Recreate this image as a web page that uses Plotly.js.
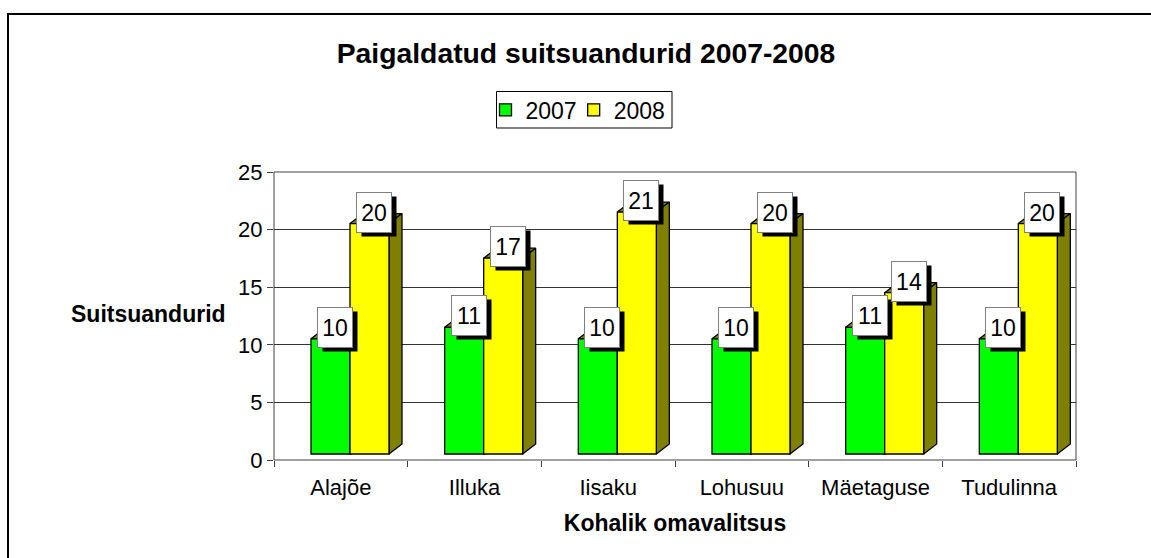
<!DOCTYPE html>
<html><head><meta charset="utf-8">
<script src="https://cdn.plot.ly/plotly-3.0.1.min.js"></script>
<style>html,body{margin:0;padding:0;background:#fff;overflow:hidden}#c{width:1151px;height:558px}</style>
</head><body><div id="c"></div>
<script>
const categories = ["Alajõe","Illuka","Iisaku","Lohusuu","Mäetaguse","Tudulinna"];
const labels2007 = [10,11,10,10,11,10];
const labels2008 = [20,17,21,20,14,20];
const yTicks = [0,5,10,15,20,25];

const W=1151,H=558,L=274,R=1076,T=172,B=460;
const pxX=(R-L)/6, pxY=(B-T)/25;
const barW=39/pxX, start=(311-L)/pxX-0.5;
const floorY=6/pxY, depthX=13/pxX, depthY=10/pxY;
const idx=categories.map((_,i)=>i);
const FONT='Liberation Sans, Arial, sans-serif';
const edge={color:'#000',width:1.3};

function front(name,vals,colOff,color,zorder){
  return {type:'bar',name,x:idx,y:vals,base:idx.map(()=>floorY),width:barW,zorder,
    offset:start+colOff*barW,marker:{color,line:edge},hoverinfo:'skip',showlegend:true};
}
function poly(xs,ys,fill,zorder){
  return {type:'scatter',mode:'lines',x:xs,y:ys,fill:'toself',fillcolor:fill,zorder,
    line:edge,showlegend:false,hoverinfo:'skip'};
}
const traces=[];
function backs(vals,colOff,topCol,sideCol,zorder){
  idx.forEach(i=>{
    const x0=i+start+colOff*barW,x1=x0+barW,t=vals[i]+floorY,b=floorY;
    traces.push(poly([x0,x0+depthX,x1+depthX,x1,x0],[t,t+depthY,t+depthY,t,t],topCol,zorder));
    traces.push(poly([x1,x1+depthX,x1+depthX,x1,x1],[t,t+depthY,b+depthY,b,t],sideCol,zorder));
  });
}
backs(labels2007,0,'#808000','#808000',1);
traces.push(front('2007',labels2007,0,'#00ff00',2));
backs(labels2008,1,'#808000','#808000',3);
traces.push(front('2008',labels2008,1,'#ffff00',4));

const annotations=[];
function boxes(vals,colOff){
  idx.forEach(i=>{
    const x=i+start+(colOff+0.5)*barW,y=vals[i]+floorY;
    annotations.push({x,y,xref:'x',yref:'y',text:' ',showarrow:false,width:34,height:39,
      bgcolor:'#000',borderpad:0,xshift:9.5,yshift:7.5,xanchor:'center',yanchor:'middle'});
    annotations.push({x,y,xref:'x',yref:'y',text:String(vals[i]),showarrow:false,width:34,height:39,
      bgcolor:'#fff',bordercolor:'#808080',borderwidth:1,borderpad:0,xshift:4.5,yshift:11.5,
      xanchor:'center',yanchor:'middle',font:{family:FONT,size:23,color:'#000'}});
  });
}
boxes(labels2007,0);
boxes(labels2008,1);

const px2paperX=p=>(p-L)/(R-L), px2paperY=p=>(B-p)/(B-T);
const shapes=[
 {type:'line',xref:'paper',yref:'paper',x0:px2paperX(7),x1:px2paperX(W),y0:px2paperY(14),y1:px2paperY(14),line:{color:'#000',width:2}},
 {type:'line',xref:'paper',yref:'paper',x0:px2paperX(8),x1:px2paperX(8),y0:px2paperY(14),y1:px2paperY(H),line:{color:'#000',width:2}},
 {type:'rect',xref:'paper',yref:'paper',x0:px2paperX(496.5),x1:px2paperX(672),y0:px2paperY(91.5),y1:px2paperY(128),line:{color:'#000',width:1},fillcolor:'#fff'},
 {type:'rect',layer:'below',xref:'paper',yref:'paper',x0:0,x1:1,y0:0,y1:1,line:{color:'#404040',width:1}}
];

const layout={
  width:W,height:H,paper_bgcolor:'#fff',plot_bgcolor:'#fff',
  margin:{l:L,r:W-R,t:T,b:H-B,pad:0},
  barmode:'overlay',
  font:{family:FONT,color:'#000'},
  title:{text:'<b>Paigaldatud suitsuandurid 2007-2008</b>',font:{family:FONT,size:28.3,color:'#000'},
    x:586/W,xanchor:'center',y:1-53/H,yanchor:'middle'},
  xaxis:{range:[-0.5,5.5],tickmode:'array',tickvals:idx,ticktext:categories,ticks:'',ticklabelstandoff:8,
    tickfont:{family:FONT,size:22},showgrid:false,zeroline:false,
    showline:true,linecolor:'#404040',linewidth:1,mirror:true,fixedrange:true,
    minor:{tickmode:'array',tickvals:[-0.5,0.5,1.5,2.5,3.5,4.5,5.5],ticks:'outside',ticklen:6,tickcolor:'#404040',showgrid:false},
    title:{text:'<b>Kohalik omavalitsus</b>',font:{family:FONT,size:23},standoff:15},automargin:false},
  yaxis:{range:[0,25],tickmode:'array',tickvals:yTicks,ticks:'outside',ticklen:6,tickcolor:'#404040',
    tickfont:{family:FONT,size:22},gridcolor:'#333',gridwidth:1,zeroline:false,
    showline:true,linecolor:'#404040',linewidth:1,mirror:true,fixedrange:true,
    title:{text:''},automargin:false},
  legend:{orientation:'h',x:px2paperX(582),xanchor:'center',y:px2paperY(110),yanchor:'middle',indentation:-8,
    borderwidth:0,bgcolor:'rgba(0,0,0,0)',font:{family:FONT,size:23},traceorder:'normal',itemclick:false,itemdoubleclick:false},
  annotations:annotations.concat([{xref:'paper',yref:'paper',x:px2paperX(148),y:px2paperY(314),
    text:'<b>Suitsuandurid</b>',showarrow:false,xanchor:'center',yanchor:'middle',font:{family:FONT,size:23,color:'#000'}}]),
  shapes
};
Plotly.newPlot('c',traces,layout,{displayModeBar:false});
</script></body></html>
